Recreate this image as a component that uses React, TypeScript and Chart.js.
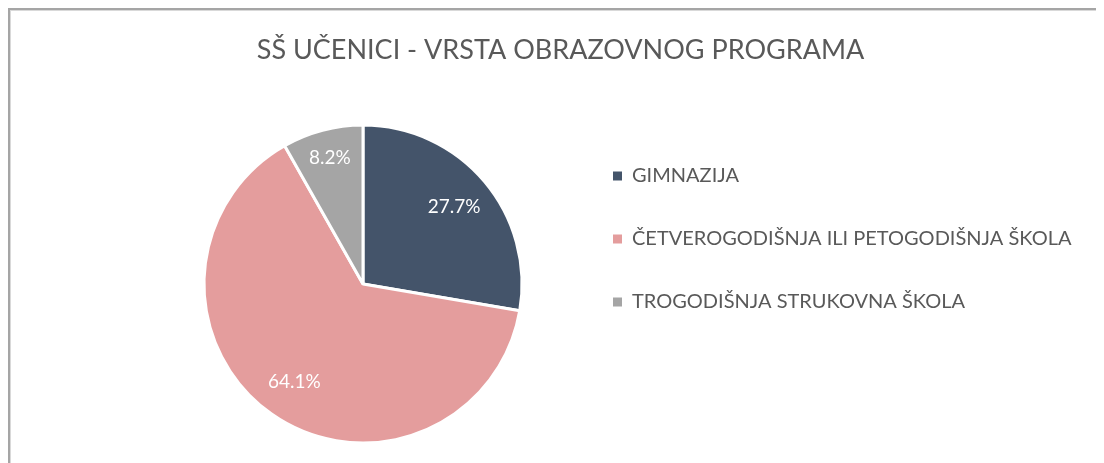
import { useEffect, useRef } from 'react';
import { Chart, registerables } from 'chart.js';

Chart.register(...registerables);

const chartTitle = 'SŠ UČENICI - VRSTA OBRAZOVNOG PROGRAMA';
const categories = ['GIMNAZIJA', 'ČETVEROGODIŠNJA ILI PETOGODIŠNJA ŠKOLA', 'TROGODIŠNJA STRUKOVNA ŠKOLA'];
const shares = [27.7, 64.1, 8.2];
const sliceColors = ['#44546A', '#E49D9D', '#A5A5A5'];

const FONT = 'Lato';

const sliceLabels = {
  id: 'sliceLabels',
  afterDatasetsDraw(chart: any) {
    const ctx = chart.ctx as CanvasRenderingContext2D;
    const meta = chart.getDatasetMeta(0);
    const data = chart.data.datasets[0].data as number[];
    const total = data.reduce((a, b) => a + b, 0);
    ctx.save();
    ctx.font = `19px ${FONT}`;
    ctx.fillStyle = '#FFFFFF';
    ctx.textAlign = 'center';
    ctx.textBaseline = 'middle';
    meta.data.forEach((el: any, i: number) => {
      const { x, y, startAngle, endAngle, outerRadius } = el.getProps(
        ['x', 'y', 'startAngle', 'endAngle', 'outerRadius'],
        true
      );
      const mid = (startAngle + endAngle) / 2;
      const share = data[i] / total;
      const f = share < 0.1 ? 0.82 : 0.75;
      ctx.fillText(
        `${(share * 100).toFixed(1)}%`,
        x + Math.cos(mid) * outerRadius * f,
        y + Math.sin(mid) * outerRadius * f
      );
    });
    ctx.restore();
  },
};

// let the legend text run past its layout box instead of being clipped
const legendRoom = {
  id: 'legendRoom',
  afterLayout(chart: any) {
    const lg = chart.legend;
    if (lg) {
      lg.right = chart.width;
      lg.width = lg.right - lg.left;
    }
  },
};

export default function App() {
  const ref = useRef<HTMLCanvasElement>(null);
  useEffect(() => {
    document.documentElement.style.overflow = 'hidden';
    document.body.style.overflow = 'hidden';
    const baseGen = (Chart as any).overrides.pie.plugins.legend.labels.generateLabels;
    const chart = new Chart(ref.current!, {
      type: 'pie',
      data: {
        labels: categories,
        datasets: [
          {
            data: shares,
            backgroundColor: sliceColors,
            borderColor: '#FFFFFF',
            borderWidth: 3,
            radius: 159,
          } as any,
        ],
      },
      options: {
        animation: false,
        responsive: false,
        events: [],
        layout: { padding: { left: 146, right: 139, top: 5, bottom: 0 } },
        plugins: {
          title: {
            display: true,
            text: chartTitle,
            color: '#595959',
            font: { family: FONT, size: 27, weight: 'normal' },
            padding: { top: 19, bottom: 38.6 },
          },
          legend: {
            position: 'right',
            maxWidth: 395,
            labels: {
              color: '#595959',
              font: { family: FONT, size: 20 },
              boxWidth: 9,
              boxHeight: 9,
              padding: 43,
              generateLabels: (c: any) =>
                baseGen(c).map((l: any) => ({ ...l, lineWidth: 0, strokeStyle: l.fillStyle })),
            },
          } as any,
          tooltip: { enabled: false },
        },
      },
      plugins: [sliceLabels, legendRoom],
    });
    return () => chart.destroy();
  }, []);
  return (
    <div
      style={{
        borderTop: '2px solid #A5A5A5',
        borderLeft: '2px solid #A5A5A5',
        boxShadow: 'inset 1px 1px 0 #D9D9D9',
        width: 1094,
        height: 453,
      }}
    >
      <canvas ref={ref} width={1094} height={453} style={{ display: 'block', width: 1094, height: 453 }} />
    </div>
  );
}
